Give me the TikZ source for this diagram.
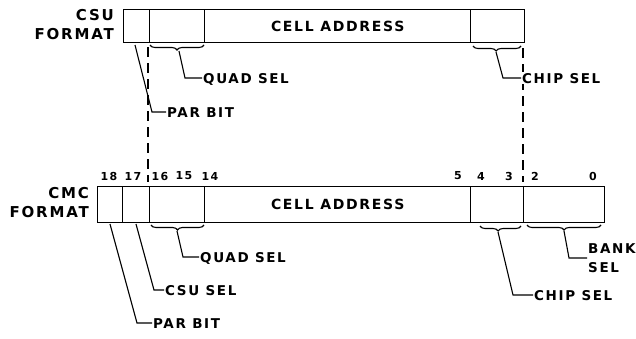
\documentclass[tikz,border=0pt]{standalone}
\usepackage{fontspec}
\setmainfont{DejaVu Sans}[LetterSpace=12]
\usetikzlibrary{decorations.pathreplacing,calc}
\begin{document}
\begin{tikzpicture}[x=1pt,y=-1pt,
  field/.style={draw,line width=1.4pt,inner sep=0pt,anchor=north west,font=\fontsize{14}{16}\bfseries\selectfont},
  lab/.style={inner sep=1pt,anchor=west,text height=10pt,text depth=0pt,font=\fontsize{13.5}{16}\bfseries\selectfont},
  fmt/.style={inner sep=0pt,anchor=east,align=right,font=\fontsize{15}{19}\bfseries\selectfont},
  bitno/.style={inner sep=0pt,font=\fontsize{11}{12}\bfseries\selectfont},
  lead/.style={line width=1.1pt},
  brc/.style={line width=1.1pt,decorate,decoration={brace,mirror,amplitude=5pt}},
  dsh/.style={line width=1.6pt,dash pattern=on 10pt off 6pt}]
\useasboundingbox (0,0) rectangle (636,338);

% CSU format
\node[fmt] (csufmt) at (114,25) {CSU\\FORMAT};
\node[field,minimum width=26pt,minimum height=33pt] (csuP) at (123,9) {};
\node[field,minimum width=55pt,minimum height=33pt] (csuQ) at (149,9) {};
\node[field,minimum width=266pt,minimum height=33pt] (csuC) at (204,9) {CELL ADDRESS};
\node[field,minimum width=54pt,minimum height=33pt] (csuH) at (470,9) {};

% CMC format
\node[fmt] (cmcfmt) at (89,203) {CMC\\FORMAT};
\node[field,minimum width=25pt,minimum height=36pt] (cmcP) at (97,186) {};
\node[field,minimum width=27pt,minimum height=36pt] (cmcS) at (122,186) {};
\node[field,minimum width=55pt,minimum height=36pt] (cmcQ) at (149,186) {};
\node[field,minimum width=266pt,minimum height=36pt] (cmcC) at (204,186) {CELL ADDRESS};
\node[field,minimum width=53pt,minimum height=36pt] (cmcH) at (470,186) {};
\node[field,minimum width=81pt,minimum height=36pt] (cmcB) at (523,186) {};

% bit numbers
\node[bitno] (b18) at (109,176) {18};
\node[bitno] (b17) at (133,176) {17};
\node[bitno] (b16) at (160,176) {16};
\node[bitno] (b15) at (184,176) {15};
\node[bitno] (b14) at (210,176) {14};
\node[bitno] (b5) at (458,176) {5};
\node[bitno] (b4) at (481,176) {4};
\node[bitno] (b3) at (509,176) {3};
\node[bitno] (b2) at (535,176) {2};
\node[bitno] (b0) at (593,176) {0};

% dashed alignment lines
\coordinate (dl1) at (148,47);
\coordinate (dl2) at (148,182);
\coordinate (dr1) at (523,48);
\coordinate (dr2) at (523,182);
\draw[dsh] (dl1) -- (dl2);
\draw[dsh] (dr1) -- (dr2);

% CSU braces and labels
\draw[brc] (150,45) -- (204,45);
\coordinate (csuQtip) at (179,51);
\draw[brc,decoration={aspect=0.48}] (473,46) -- (521,46);
\coordinate (csuHtip) at (496,52);

\node[lab] (csuQlab) at (202,78) {QUAD SEL};
\node[lab] (csuPlab) at (166,112) {PAR BIT};
\node[lab,fill=white] (csuHlab) at (521,78) {CHIP SEL};

\coordinate (csuQbend) at (185,78);
\coordinate (csuPstart) at (135,45);
\coordinate (csuPbend) at (152,112);
\coordinate (csuHbend) at (503,78);
\draw[lead] (csuQtip) -- (csuQbend) -- (csuQlab.west);
\draw[lead] (csuPstart) -- (csuPbend) -- (csuPlab.west);
\draw[lead] (csuHtip) -- (csuHbend) -- (csuHlab.west);

% CMC braces and labels
\draw[brc] (151,225) -- (204,225);
\coordinate (cmcQtip) at (177,231);
\draw[brc,decoration={aspect=0.44}] (480,226) -- (521,226);
\coordinate (cmcHtip) at (498,232);
\draw[brc] (527,225) -- (601,225);
\coordinate (cmcBtip) at (564,231);

\node[lab] (cmcQlab) at (199,257) {QUAD SEL};
\node[lab] (cmcSlab) at (164,290) {CSU SEL};
\node[lab] (cmcPlab) at (152,323) {PAR BIT};
\node[lab] (cmcHlab) at (533,295) {CHIP SEL};
\node[lab,align=left,text height=,text depth=,font=\fontsize{13.5}{19}\bfseries\selectfont] (cmcBlab) at (587,258) {BANK\\SEL};

\coordinate (cmcQbend) at (183,257);
\coordinate (cmcSstart) at (136,224);
\coordinate (cmcSbend) at (154,290);
\coordinate (cmcPstart) at (110,224);
\coordinate (cmcPbend) at (137,323);
\coordinate (cmcHbend) at (513,295);
\coordinate (cmcBbend) at (569,258);
\draw[lead] (cmcQtip) -- (cmcQbend) -- (cmcQlab.west);
\draw[lead] (cmcSstart) -- (cmcSbend) -- (cmcSlab.west);
\draw[lead] (cmcPstart) -- (cmcPbend) -- (cmcPlab.west);
\draw[lead] (cmcHtip) -- (cmcHbend) -- (cmcHlab.west);
\draw[lead] (cmcBtip) -- (cmcBbend) -- (cmcBlab.west);
\end{tikzpicture}
\end{document}
